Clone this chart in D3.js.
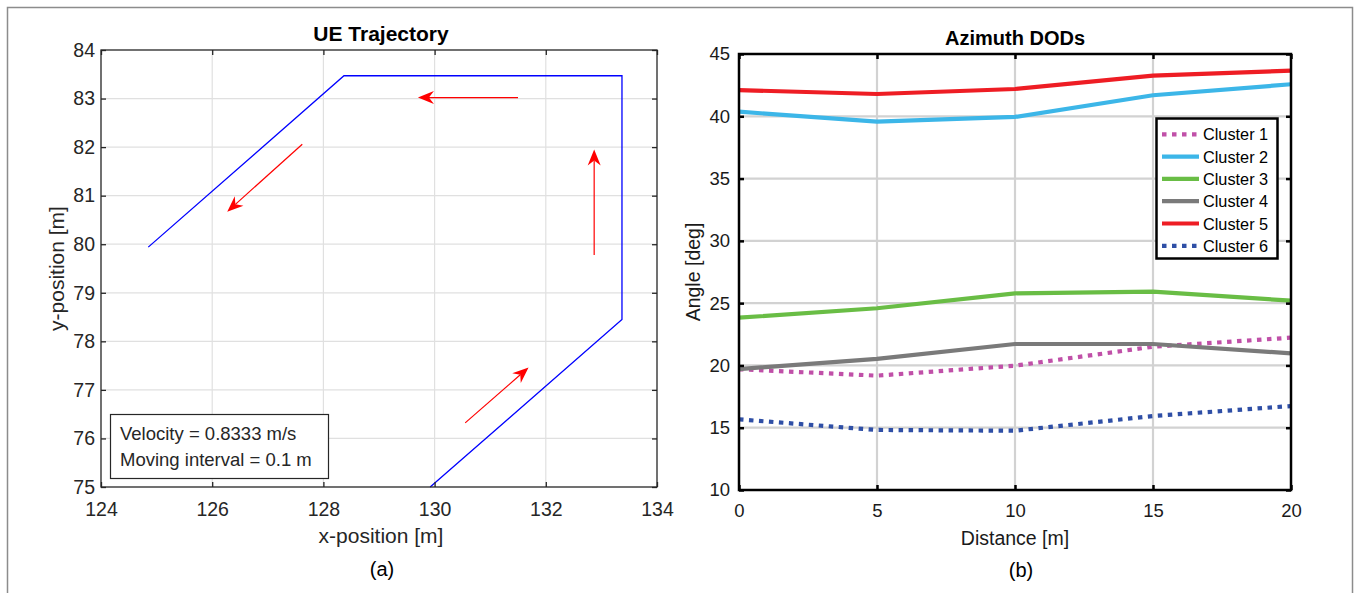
<!DOCTYPE html>
<html>
<head>
<meta charset="utf-8">
<script src="https://cdn.jsdelivr.net/npm/d3@7"></script>
<style>
  body { margin: 0; background: #fff; }
  svg { display: block; font-family: "Liberation Sans", Arial, sans-serif; }
</style>
</head>
<body>
<svg id="chart" width="1360" height="593"></svg>
<script>
// Left panel: UE trajectory (x, y in metres)
const trajX = [124.85, 128.37, 133.37, 133.37, 129.92];
const trajY = [79.94, 83.47, 83.47, 78.45, 75.0];
// direction arrows [x1, y1, x2, y2] tail -> head
const arrows = [
  [131.5, 83.02, 129.7, 83.02],
  [127.62, 82.06, 126.27, 80.67],
  [132.87, 79.78, 132.87, 81.95],
  [130.55, 76.32, 131.69, 77.46]
];
const xTicksA = [124, 126, 128, 130, 132, 134];
const yTicksA = [75, 76, 77, 78, 79, 80, 81, 82, 83, 84];
const noteLines = ["Velocity = 0.8333 m/s", "Moving interval = 0.1 m"];

// Right panel: azimuth DODs per cluster
const distance = [0, 5, 10, 15, 20];
const clusterNames = ["Cluster 1", "Cluster 2", "Cluster 3", "Cluster 4", "Cluster 5", "Cluster 6"];
const cluster1 = [19.69, 19.18, 19.98, 21.5, 22.23];
const cluster2 = [40.37, 39.57, 39.95, 41.69, 42.57];
const cluster3 = [23.83, 24.59, 25.79, 25.92, 25.2];
const cluster4 = [19.71, 20.52, 21.72, 21.72, 20.97];
const cluster5 = [42.1, 41.79, 42.19, 43.26, 43.66];
const cluster6 = [15.67, 14.82, 14.76, 15.94, 16.74];
const clusterColors = ["#c050a8", "#3cb6e8", "#69bd45", "#7a7a7a", "#ee1d24", "#2f4fa6"];
const clusterDotted = [true, false, false, false, false, true];
const xTicksB = [0, 5, 10, 15, 20];
const yTicksB = [10, 15, 20, 25, 30, 35, 40, 45];

const svg = d3.select("#chart");

// outer frame
svg.append("rect")
  .attr("x", 7.5).attr("y", 7.5)
  .attr("width", 1345).attr("height", 600)
  .attr("fill", "none").attr("stroke", "#8c8c8c").attr("stroke-width", 1.5);

// ---------- Panel (a) ----------
function drawTrajectory() {
  const L = 101, R = 657, T = 50, B = 487;
  const x = d3.scaleLinear().domain([124, 134]).range([L, R]);
  const y = d3.scaleLinear().domain([75, 84]).range([B, T]);
  const g = svg.append("g");
  const axisColor = "#262626";

  // grid
  g.append("g").selectAll("line").data(xTicksA.slice(1, -1)).join("line")
    .attr("x1", d => x(d)).attr("x2", d => x(d)).attr("y1", T).attr("y2", B)
    .attr("stroke", "#e0e0e0").attr("stroke-width", 1.2);
  g.append("g").selectAll("line").data(yTicksA.slice(1, -1)).join("line")
    .attr("y1", d => y(d)).attr("y2", d => y(d)).attr("x1", L).attr("x2", R)
    .attr("stroke", "#e0e0e0").attr("stroke-width", 1.2);

  // trajectory
  const line = d3.line().x(d => x(d[0])).y(d => y(d[1]));
  g.append("path")
    .datum(trajX.map((v, i) => [v, trajY[i]]))
    .attr("d", line)
    .attr("fill", "none").attr("stroke", "#0000ff").attr("stroke-width", 1.3);

  // arrows
  arrows.forEach(a => {
    const x1 = x(a[0]), y1 = y(a[1]), x2 = x(a[2]), y2 = y(a[3]);
    const ang = Math.atan2(y2 - y1, x2 - x1);
    const len = 16, half = 6.5, notch = 11;
    const bx = x2 - len * Math.cos(ang), by = y2 - len * Math.sin(ang);
    const nx = x2 - notch * Math.cos(ang), ny = y2 - notch * Math.sin(ang);
    const px = -Math.sin(ang), py = Math.cos(ang);
    g.append("line")
      .attr("x1", x1).attr("y1", y1).attr("x2", nx).attr("y2", ny)
      .attr("stroke", "#ff0000").attr("stroke-width", 1.2);
    g.append("path")
      .attr("d", `M${x2},${y2} L${bx + px * half},${by + py * half} L${nx},${ny} L${bx - px * half},${by - py * half} Z`)
      .attr("fill", "#ff0000");
  });

  // box and ticks
  g.append("rect").attr("x", L).attr("y", T).attr("width", R - L).attr("height", B - T)
    .attr("fill", "none").attr("stroke", axisColor).attr("stroke-width", 1.3);
  const xAxisB = d3.axisBottom(x).tickValues(xTicksA).tickSize(-5).tickPadding(15).tickFormat(d3.format("d"));
  const xAxisT = d3.axisTop(x).tickValues(xTicksA).tickSize(-5).tickFormat("");
  const yAxisL = d3.axisLeft(y).tickValues(yTicksA).tickSize(-5).tickPadding(6).tickFormat(d3.format("d"));
  const yAxisR = d3.axisRight(y).tickValues(yTicksA).tickSize(-5).tickFormat("");
  [[xAxisB, `translate(0,${B})`], [xAxisT, `translate(0,${T})`],
   [yAxisL, `translate(${L},0)`], [yAxisR, `translate(${R},0)`]].forEach(([ax, tr]) => {
    const a = g.append("g").attr("transform", tr).call(ax);
    a.select(".domain").remove();
    a.selectAll(".tick line").attr("stroke", axisColor).attr("stroke-width", 1.3);
    a.selectAll(".tick text").attr("fill", axisColor).attr("font-size", 19.5);
  });

  // note box
  const nb = g.append("g");
  nb.append("rect").attr("x", 110.5).attr("y", 414.5).attr("width", 218).attr("height", 64)
    .attr("fill", "#fff").attr("stroke", axisColor).attr("stroke-width", 1.2);
  nb.selectAll("text").data(noteLines).join("text")
    .attr("x", 120).attr("y", (d, i) => 440 + i * 25.5)
    .attr("font-size", 18.5).attr("fill", axisColor).text(d => d);

  // labels
  g.append("text").attr("x", 381).attr("y", 41).attr("text-anchor", "middle")
    .attr("font-size", 21).attr("font-weight", "bold").attr("fill", "#000").text("UE Trajectory");
  g.append("text").attr("x", 381).attr("y", 543).attr("text-anchor", "middle")
    .attr("font-size", 21).attr("fill", axisColor).text("x-position [m]");
  g.append("text").attr("transform", `translate(64,${(T + B) / 2}) rotate(-90)`)
    .attr("text-anchor", "middle").attr("font-size", 21).attr("fill", axisColor).text("y-position [m]");
  g.append("text").attr("x", 382).attr("y", 576).attr("text-anchor", "middle")
    .attr("font-size", 20).attr("fill", "#000").text("(a)");
}

// ---------- Panel (b) ----------
function drawDODs() {
  const L = 739, R = 1291, T = 54, B = 490;
  const x = d3.scaleLinear().domain([0, 20]).range([L, R]);
  const y = d3.scaleLinear().domain([10, 45]).range([B, T]);
  const g = svg.append("g");

  g.append("g").selectAll("line").data(xTicksB.slice(1, -1)).join("line")
    .attr("x1", d => x(d)).attr("x2", d => x(d)).attr("y1", T).attr("y2", B)
    .attr("stroke", "#d2d2d2").attr("stroke-width", 2.2);
  g.append("g").selectAll("line").data(yTicksB.slice(1, -1)).join("line")
    .attr("y1", d => y(d)).attr("y2", d => y(d)).attr("x1", L).attr("x2", R)
    .attr("stroke", "#d2d2d2").attr("stroke-width", 2.2);

  const series = [cluster1, cluster2, cluster3, cluster4, cluster5, cluster6];
  const line = d3.line().x((d, i) => x(distance[i])).y(d => y(d));
  series.forEach((s, k) => {
    g.append("path").datum(s).attr("d", line)
      .attr("fill", "none")
      .attr("stroke", clusterColors[k])
      .attr("stroke-width", 4.2)
      .attr("stroke-dasharray", clusterDotted[k] ? "4.5,5.5" : null);
  });

  g.append("rect").attr("x", L).attr("y", T).attr("width", R - L).attr("height", B - T)
    .attr("fill", "none").attr("stroke", "#000").attr("stroke-width", 2.5);
  const xAxisB = d3.axisBottom(x).tickValues(xTicksB).tickSize(-5).tickPadding(14);
  const xAxisT = d3.axisTop(x).tickValues(xTicksB).tickSize(-5).tickFormat("");
  const yAxisL = d3.axisLeft(y).tickValues(yTicksB).tickSize(-5).tickPadding(9);
  const yAxisR = d3.axisRight(y).tickValues(yTicksB).tickSize(-5).tickFormat("");
  [[xAxisB, `translate(0,${B})`], [xAxisT, `translate(0,${T})`],
   [yAxisL, `translate(${L},0)`], [yAxisR, `translate(${R},0)`]].forEach(([ax, tr]) => {
    const a = g.append("g").attr("transform", tr).call(ax);
    a.select(".domain").remove();
    a.selectAll(".tick line").attr("stroke", "#000").attr("stroke-width", 2.5);
    a.selectAll(".tick text").attr("fill", "#1a1a1a").attr("font-size", 18.5);
  });

  // legend
  const lg = g.append("g");
  lg.append("rect").attr("x", 1156.5).attr("y", 118.5).attr("width", 121).attr("height", 140)
    .attr("fill", "#fff").attr("stroke", "#000").attr("stroke-width", 2.5);
  clusterNames.forEach((name, k) => {
    const cy = 134.3 + k * 22.3;
    lg.append("line").attr("x1", 1162).attr("x2", 1199).attr("y1", cy).attr("y2", cy)
      .attr("stroke", clusterColors[k]).attr("stroke-width", 4.2)
      .attr("stroke-dasharray", clusterDotted[k] ? "4.5,5.5" : null);
    lg.append("text").attr("x", 1203).attr("y", cy + 6)
      .attr("font-size", 16.3).attr("fill", "#000").text(name);
  });

  g.append("text").attr("x", 1015).attr("y", 45).attr("text-anchor", "middle")
    .attr("font-size", 20).attr("font-weight", "bold").attr("fill", "#000").text("Azimuth DODs");
  g.append("text").attr("x", 1015).attr("y", 545).attr("text-anchor", "middle")
    .attr("font-size", 19.5).attr("fill", "#1a1a1a").text("Distance [m]");
  g.append("text").attr("transform", `translate(700,${(T + B) / 2}) rotate(-90)`)
    .attr("text-anchor", "middle").attr("font-size", 19.5).attr("fill", "#1a1a1a").text("Angle [deg]");
  g.append("text").attr("x", 1021).attr("y", 577).attr("text-anchor", "middle")
    .attr("font-size", 20).attr("fill", "#000").text("(b)");
}

drawTrajectory();
drawDODs();
</script>
</body>
</html>
